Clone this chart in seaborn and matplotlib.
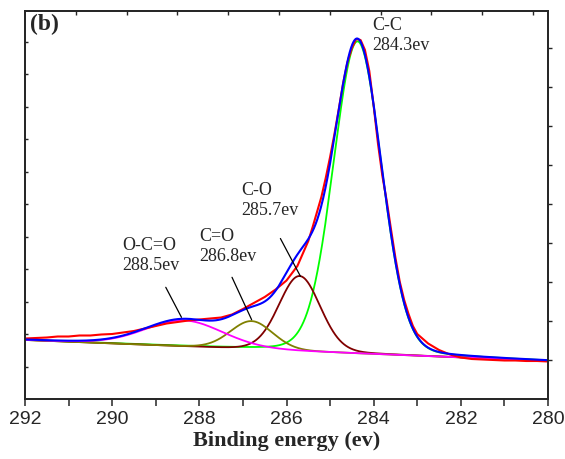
import numpy as np
import pandas as pd
import matplotlib
matplotlib.use("Agg")
import matplotlib.pyplot as plt
import seaborn as sns

energy_raw = np.concatenate([
    np.linspace(292.0, 285.75, 26),
    np.linspace(285.5, 283.0, 26),
    np.linspace(282.75, 280.0, 12),
])
intensity_raw = [
    60.5, 61, 61.5, 62.5, 62.5, 63.5, 63.5, 64.5, 65, 66.5, 68, 70.5, 73,
    75.5, 77, 78.5, 79.5, 80.5, 81.5, 84.5, 90, 96, 102, 109.5, 118.5, 133,
    158, 172, 187, 202, 221, 242, 265, 290, 316, 337, 351, 360, 359, 349,
    328, 293, 255, 223, 198, 169, 141, 117, 99, 85, 73, 65,
    55.5, 49, 44.5, 41.5, 40, 39.5, 39, 38.5, 38.5, 38, 38, 37.5,
]

# peak fit parameters
peak_names = ["C-C", "C-O", "C=O", "O-C=O"]
peak_center = [284.37, 285.70, 286.80, 288.35]
peak_fwhm = [1.30, 1.12, 1.15, 2.10]
peak_height = [312, 75, 28, 26]
lorentz_frac = 0.1
background_ends = [59, 38]  # at 292 eV and 280 eV

peak_colors = ["#00ff00", "#800000", "#808000", "#ff00ff"]

# annotations
label_text = ["C-C\n284.3ev", "C-O\n285.7ev", "C=O\n286.8ev", "O-C=O\n288.5ev"]
label_x = [284.04, 287.03, 288.00, 289.78]
label_y = [383, 218, 172, 163]
pointer_from = [None, (286.14, 160.5), (287.25, 121.7), (288.77, 111.7)]
pointer_to = [None, (285.68, 122.7), (286.80, 79.3), (288.41, 81.7)]


def gl_peak(e, c, w, h, m):
    x = (e - c) / w
    return h * ((1 - m) * np.exp(-4 * np.log(2) * x ** 2) + m / (1 + 4 * x ** 2))


e = np.linspace(280, 292, 1201)
bg = background_ends[1] + (e - 280) / 12 * (background_ends[0] - background_ends[1])

frames = []
envelope = bg.copy()
for name, c, w, h in zip(peak_names, peak_center, peak_fwhm, peak_height):
    comp = gl_peak(e, c, w, h, lorentz_frac)
    envelope += comp
    frames.append(pd.DataFrame({"energy": e, "intensity": bg + comp, "curve": name}))
comps = pd.concat(frames)

raw = pd.DataFrame({"energy": energy_raw, "intensity": intensity_raw})
fit = pd.DataFrame({"energy": e, "intensity": envelope})

sns.set_style("ticks")
plt.rcParams["font.family"] = ["Liberation Serif", "DejaVu Serif"]

fig = plt.figure(figsize=(5.65, 4.6), dpi=100)
ax = fig.add_axes([25 / 565, 1 - 400 / 460, 523 / 565, 388 / 460])

sns.lineplot(data=comps, x="energy", y="intensity", hue="curve",
             hue_order=peak_names, palette=peak_colors, estimator=None,
             sort=False, lw=1.3, legend=False, ax=ax)
sns.lineplot(data=raw, x="energy", y="intensity", color="#ff0000",
             estimator=None, lw=1.5, ax=ax)
sns.lineplot(data=fit, x="energy", y="intensity", color="#0000ff",
             estimator=None, sort=False, lw=1.5, ax=ax)

for txt, x, y, p0, p1 in zip(label_text, label_x, label_y, pointer_from, pointer_to):
    ax.text(x, y, txt, fontsize=13, ha="left", va="top", linespacing=1.2)
    if p0 is not None:
        ax.annotate("", xy=p1, xytext=p0,
                    arrowprops=dict(arrowstyle="-", color="black", lw=0.9,
                                    shrinkA=0, shrinkB=0))

ax.text(0.01, 0.995, "(b)", transform=ax.transAxes, fontsize=17,
        fontweight="bold", ha="left", va="top")

ax.set_xlim(292, 280)
ax.set_ylim(0, 388)
ax.set_xticks([292, 290, 288, 286, 284, 282, 280])
ax.set_xticks([291, 289, 287, 285, 283, 281], minor=True)
ax.set_yticks(np.arange(32.5, 388, 32.5))
ax.set_yticklabels([])
ax.set_ylabel("")
ax.set_xlabel("Binding energy (ev)", fontsize=16, fontweight="bold", labelpad=2)
for lab in ax.get_xticklabels():
    lab.set_family(["Liberation Sans", "DejaVu Sans"])
    lab.set_fontsize(14)
ax.tick_params(axis="x", which="both", direction="out", length=5, width=1.1, pad=3)
ax.tick_params(axis="y", direction="in", length=2.5, width=1)
for s in ax.spines.values():
    s.set_linewidth(1.1)
    s.set_visible(True)

# right and top ticks (independent scales, as in the original)
ax_r = ax.twinx()
ax_r.set_ylim(0, 388)
ax_r.set_yticks(np.arange(39, 388, 39))
ax_r.set_yticklabels([])
ax_r.tick_params(axis="y", direction="out", length=3, width=1)
ax_t = ax.twiny()
ax_t.set_xlim(0, 523)
ax_t.set_xticks(np.arange(50.8, 523, 50.8))
ax_t.set_xticklabels([])
ax_t.tick_params(axis="x", direction="in", length=3, width=1)
for a in (ax_r, ax_t):
    for s in a.spines.values():
        s.set_linewidth(1.1)

fig.savefig("out.png", dpi=100)
